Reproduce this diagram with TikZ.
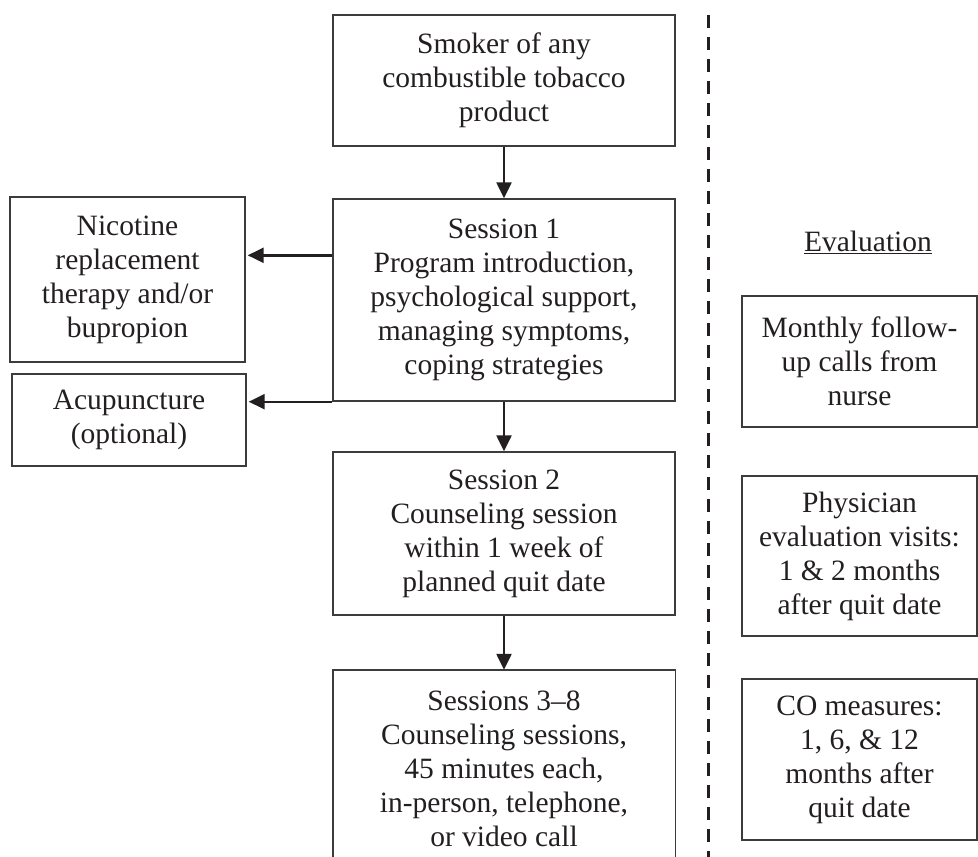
\documentclass[tikz,border=0pt]{standalone}
\usepackage{fontspec}
\setmainfont{Liberation Serif}
\usetikzlibrary{arrows.meta}
\definecolor{ink}{HTML}{231F20}
\definecolor{edge}{HTML}{3C3C3C}
\begin{document}
\begin{tikzpicture}[x=1pt,y=-1pt,
  every node/.style={font=\fontsize{29.5}{34}\selectfont, text=ink},
  flowbox/.style={draw=edge, line width=1.4pt, align=center, inner sep=0pt, anchor=center},
  openbox/.style={draw=none, align=center, inner sep=0pt, anchor=center},
  arr/.style={draw=ink, line width=2.4pt, -{Triangle[length=16pt,width=15pt]}},
  sepline/.style={draw=ink, line width=3pt, dash pattern=on 13pt off 9pt}]
\useasboundingbox (0,0) rectangle (978,857);
% main column
\node[flowbox, minimum width=342pt, minimum height=131pt] (smoker) at (504,80.5)
  {Smoker of any\\combustible tobacco\\product};
\node[flowbox, minimum width=342pt, minimum height=202pt] (s1) at (504,300)
  {Session 1\\Program introduction,\\psychological support,\\managing symptoms,\\coping strategies};
\node[flowbox, minimum width=342pt, minimum height=163pt] (s2) at (504,533.5)
  {Session 2\\Counseling session\\within 1 week of\\planned quit date};
\node[openbox, minimum width=342pt, minimum height=197pt] (s3) at (504,768.5)
  {Sessions 3--8\\Counseling sessions,\\45 minutes each,\\in-person, telephone,\\or video call};
\coordinate (bot) at (0,857);
\draw[draw=edge, line width=1.4pt] (s3.south west |- bot) -- (s3.north west) -- (s3.north east) -- (s3.south east |- bot);
% left column
\node[flowbox, minimum width=235pt, minimum height=165pt] (nrt) at (127.5,279.5)
  {Nicotine\\replacement\\therapy and/or\\bupropion};
\node[flowbox, minimum width=234pt, minimum height=92pt] (acu) at (129,420)
  {Acupuncture\\(optional)};
% right column
\node (evalh) at (868,242) {\underline{Evaluation}};
\node[flowbox, minimum width=235pt, minimum height=131pt] (mon) at (859.5,361.5)
  {Monthly follow-\\up calls from\\nurse};
\node[flowbox, minimum width=235pt, minimum height=160pt] (phy) at (859.5,556)
  {Physician\\evaluation visits:\\1 \& 2 months\\after quit date};
\node[flowbox, minimum width=235pt, minimum height=161pt] (co) at (859.5,759.5)
  {CO measures:\\1, 6, \& 12\\months after\\quit date};
% separator
\coordinate (septop) at (708,15);
\coordinate (sepbot) at (708,857);
\draw[sepline] (septop) -- (sepbot);
% connectors
\draw[arr] (smoker.south) -- (s1.north);
\draw[arr] (s1.south) -- (s2.north);
\draw[arr] (s2.south) -- (s3.north);
\path (s1.north west) ++(0,57) coordinate (a1);
\draw[arr, shorten >=2pt] (a1) -- (a1 -| nrt.east);
\draw[arr, shorten >=2pt] (s1.south west) -- (s1.south west -| acu.east);
\end{tikzpicture}
\end{document}
